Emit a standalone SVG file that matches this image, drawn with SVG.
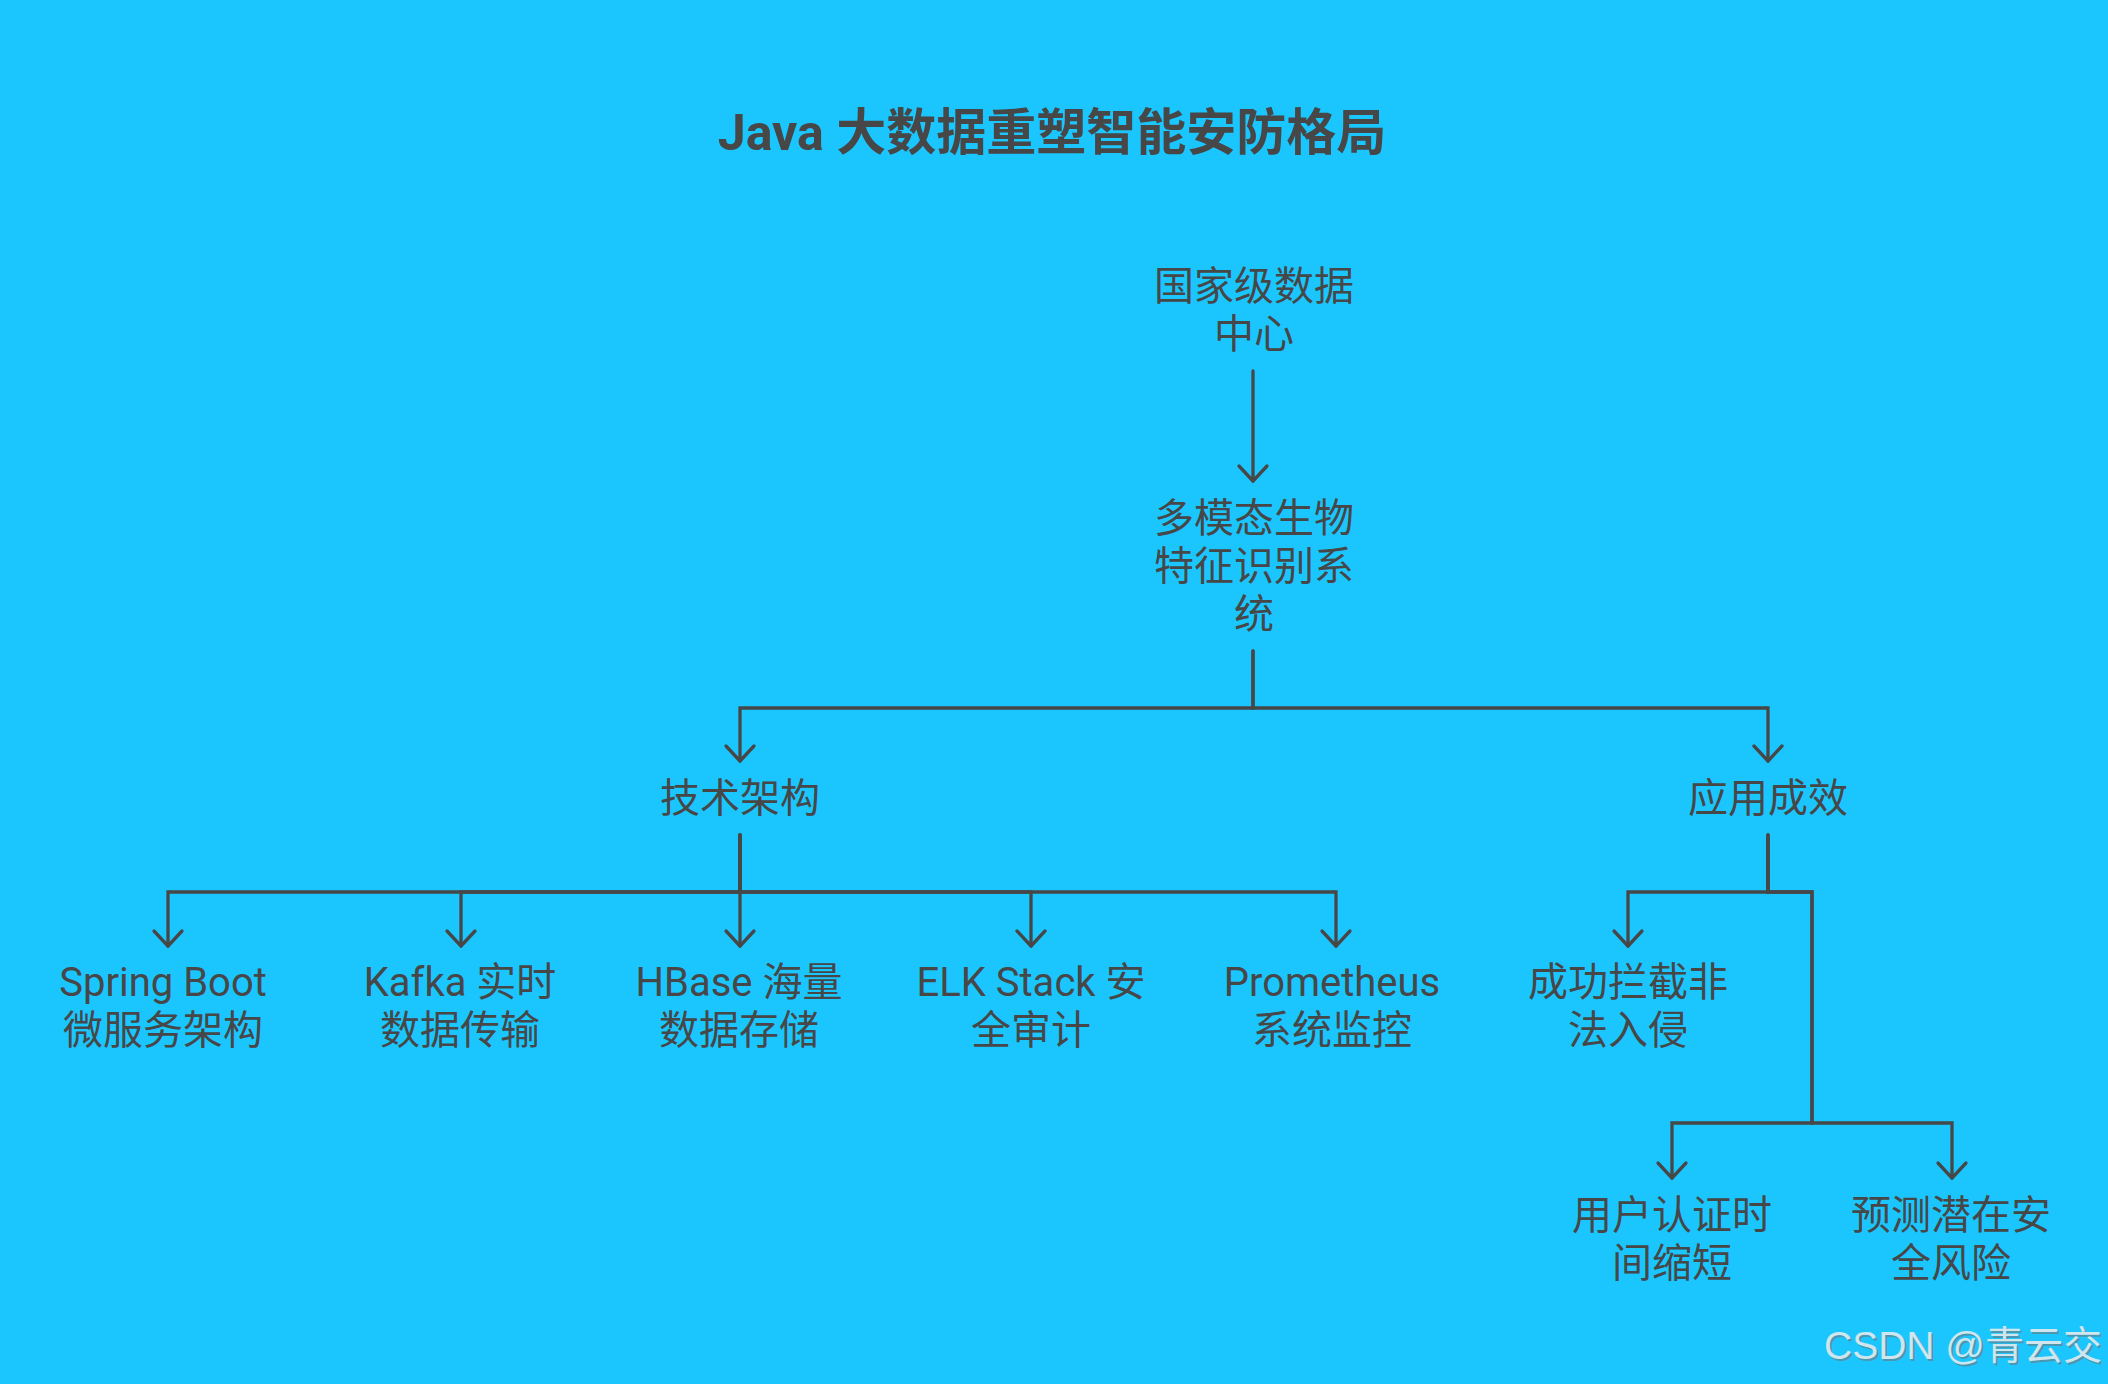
<svg xmlns="http://www.w3.org/2000/svg" width="2108" height="1384" viewBox="0 0 2108 1384">
<style>
  .t { font-family: Roboto, "Noto Sans CJK SC", sans-serif; font-size: 40px; fill: #474747; text-anchor: middle; }
  .title { font-family: Roboto, "Noto Sans CJK SC", sans-serif; font-size: 50px; font-weight: bold; fill: #474747; text-anchor: middle; }
  .c { fill: none; stroke: #474747; stroke-width: 3.3; stroke-linejoin: miter; stroke-linecap: round; }
  .wm { font-family: "Liberation Sans", "Noto Sans CJK SC", sans-serif; font-size: 39px; }
</style>
<defs>
  <marker id="arr" markerUnits="userSpaceOnUse" viewBox="-20 -20 24 40" markerWidth="24" markerHeight="40" refX="0" refY="0" orient="auto" overflow="visible">
    <path d="M-15,-14 L0,0 L-15,14" fill="none" stroke="#474747" stroke-width="3.3" stroke-linecap="round" stroke-linejoin="round"/>
  </marker>
</defs>
<rect width="2108" height="1384" fill="#1BC6FF"/>
<text class="title" x="1052" y="150">Java 大数据重塑智能安防格局</text>

<g id="connectors">
  <path class="c" d="M1253,371 V481" marker-end="url(#arr)"/>
  <path class="c" d="M1253,651 V708 H740 V761" marker-end="url(#arr)"/>
  <path class="c" d="M1253,651 V708 H1768 V761" marker-end="url(#arr)"/>
  <path class="c" d="M740,835 V892 H168 V946" marker-end="url(#arr)"/>
  <path class="c" d="M740,835 V892 H461 V946" marker-end="url(#arr)"/>
  <path class="c" d="M740,835 V946" marker-end="url(#arr)"/>
  <path class="c" d="M740,835 V892 H1031 V946" marker-end="url(#arr)"/>
  <path class="c" d="M740,835 V892 H1336 V946" marker-end="url(#arr)"/>
  <path class="c" d="M1768,835 V892 H1628 V946" marker-end="url(#arr)"/>
  <path class="c" d="M1768,835 V892 H1812 V1123 H1672 V1178" marker-end="url(#arr)"/>
  <path class="c" d="M1768,835 V892 H1812 V1123 H1952 V1178" marker-end="url(#arr)"/>
</g>

<g id="n-root"><text class="t" x="1254" y="300">国家级数据</text><text class="t" x="1254" y="348">中心</text></g>
<g id="n-bio"><text class="t" x="1254" y="532">多模态生物</text><text class="t" x="1254" y="580">特征识别系</text><text class="t" x="1254" y="628">统</text></g>
<g id="n-tech"><text class="t" x="740" y="812">技术架构</text></g>
<g id="n-app"><text class="t" x="1768" y="812">应用成效</text></g>
<g id="n-spring"><text class="t" x="163" y="996">Spring Boot</text><text class="t" x="163" y="1044">微服务架构</text></g>
<g id="n-kafka"><text class="t" x="460" y="996">Kafka 实时</text><text class="t" x="460" y="1044">数据传输</text></g>
<g id="n-hbase"><text class="t" x="739" y="996">HBase 海量</text><text class="t" x="739" y="1044">数据存储</text></g>
<g id="n-elk"><text class="t" x="1031" y="996">ELK Stack 安</text><text class="t" x="1031" y="1044">全审计</text></g>
<g id="n-prom"><text class="t" x="1332" y="996">Prometheus</text><text class="t" x="1332" y="1044">系统监控</text></g>
<g id="n-block"><text class="t" x="1628" y="996">成功拦截非</text><text class="t" x="1628" y="1044">法入侵</text></g>
<g id="n-auth"><text class="t" x="1672" y="1229">用户认证时</text><text class="t" x="1672" y="1277">间缩短</text></g>
<g id="n-risk"><text class="t" x="1951" y="1229">预测潜在安</text><text class="t" x="1951" y="1277">全风险</text></g>

<text class="wm" x="1826" y="1361" fill="#5a8a9a" fill-opacity="0.8">CSDN @青云交</text>
<text class="wm" x="1824" y="1359" fill="#cfe6ee">CSDN @青云交</text>
</svg>
